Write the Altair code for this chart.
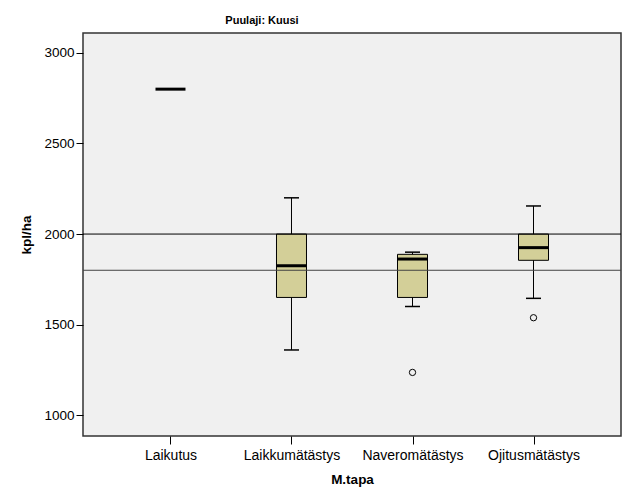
import altair as alt
import pandas as pd

categories = ["Laikutus", "Laikkumätästys", "Naveromätästys", "Ojitusmätästys"]
whisker_low = [2800, 1360, 1600, 1645]
q1 = [2800, 1650, 1650, 1855]
median = [2800, 1825, 1862, 1925]
q3 = [2800, 2000, 1888, 2000]
whisker_high = [2800, 2200, 1900, 2155]

outlier_cat = ["Naveromätästys", "Ojitusmätästys"]
outlier_val = [1236, 1538]

ref_values = [2000, 1800]
ref_colors = ["#000000", "#444444"]

y_ticks = [1000, 1500, 2000, 2500, 3000]

box = pd.DataFrame({
    "tapa": categories, "lo": whisker_low, "q1": q1, "med": median,
    "q3": q3, "hi": whisker_high,
})
box_w = box[box["lo"] != box["hi"]]
out = pd.DataFrame({"tapa": outlier_cat, "v": outlier_val})
refs = pd.DataFrame({"v": ref_values, "c": ref_colors})

xs = alt.X("tapa:N", sort=categories, title="M.tapa",
           scale=alt.Scale(type="point", padding=0.723),
           axis=alt.Axis(labelAngle=0, labelFontSize=14, labelFont="Arial",
                         labelColor="#000", titleFont="Arial", titleFontSize=13.5,
                         titleFontWeight="bold", titleColor="#000",
                         tickSize=8, tickColor="#000", domain=False,
                         labelPadding=4, titlePadding=10))
yscale = alt.Scale(domain=[885, 3110], nice=False, zero=False)
ys = alt.Y("lo:Q", title="kpl/ha", scale=yscale,
           axis=alt.Axis(values=y_ticks, format="d", grid=False, labelFontSize=13.5,
                         labelFont="Arial", labelColor="#000",
                         titleFont="Arial", titleFontSize=13.5,
                         titleFontWeight="bold", titleColor="#000",
                         tickSize=7, tickColor="#000", domain=False,
                         labelPadding=2, titlePadding=10))

base = alt.Chart(box_w)

whisk = base.mark_rule(color="#000", strokeWidth=1).encode(x=xs, y=ys, y2="hi:Q")
cap_lo = base.mark_tick(color="#000", size=15, thickness=1.5, opacity=1).encode(
    x=xs, y=alt.Y("lo:Q", scale=yscale))
cap_hi = base.mark_tick(color="#000", size=15, thickness=1.5, opacity=1).encode(
    x=xs, y=alt.Y("hi:Q", scale=yscale))
bars = base.mark_bar(size=30, color="#d3cf98", stroke="#000", strokeWidth=1,
                     opacity=1).encode(
    x=xs, y=alt.Y("q1:Q", scale=yscale), y2="q3:Q")
med = alt.Chart(box).mark_tick(color="#000", size=30, thickness=3, opacity=1).encode(
    x=xs, y=alt.Y("med:Q", scale=yscale))
pts = alt.Chart(out).mark_point(shape="circle", filled=False, color="#000",
                                size=40, strokeWidth=1, opacity=1).encode(
    x=xs, y=alt.Y("v:Q", scale=yscale))
rules = alt.Chart(refs).mark_rule(strokeWidth=1, opacity=1).encode(
    y=alt.Y("v:Q", scale=yscale), color=alt.Color("c:N", scale=None))

chart = alt.layer(whisk, cap_lo, cap_hi, bars, med, pts, rules).properties(
    width=538, height=403,
    title=alt.TitleParams("Puulaji: Kuusi", font="Arial", fontSize=11,
                          fontWeight="bold", color="#000", anchor="middle",
                          dx=-90, offset=7),
    autosize=alt.AutoSizeParams(type="none"),
    padding={"left": 83, "top": 33, "right": 8, "bottom": 68},
    background="#ffffff",
).configure_view(fill="#f0f0f0", stroke="#333333", strokeWidth=1.5)

chart.save("out.html", embed_options={"renderer": "svg", "actions": False})
